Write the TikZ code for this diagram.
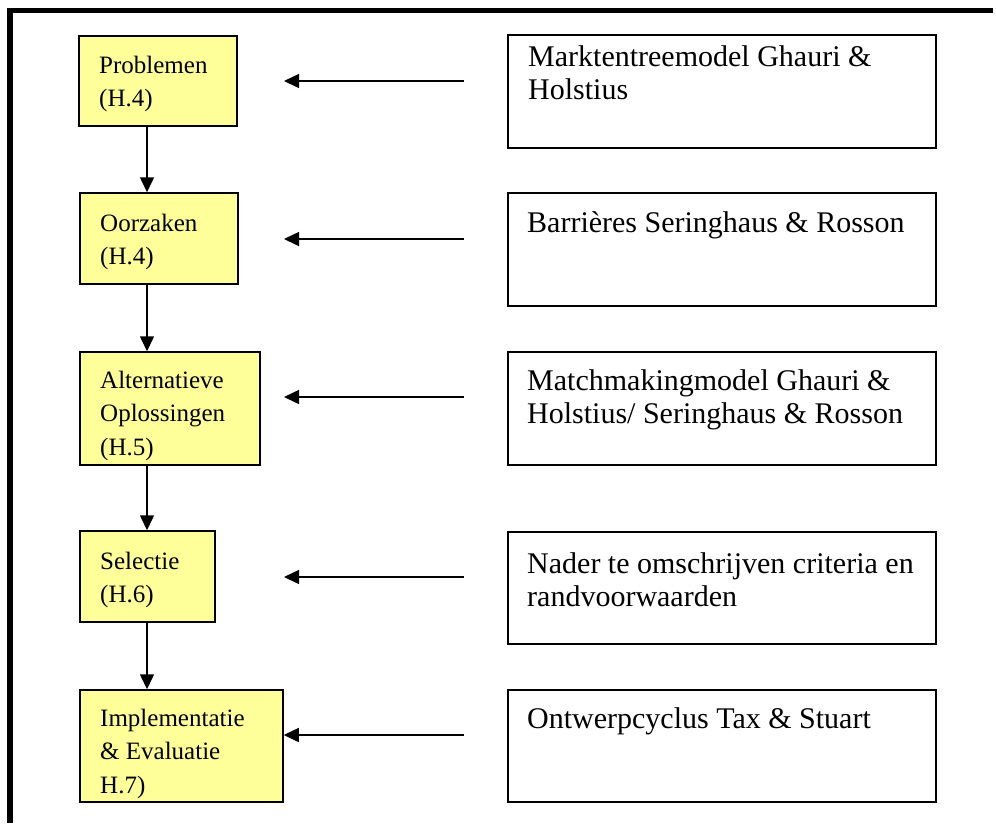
\documentclass[tikz,border=0pt]{standalone}
\usepackage{fontspec}
\setmainfont{Liberation Serif}
\usetikzlibrary{arrows.meta}
\definecolor{boxyellow}{RGB}{255,255,153}
\newcommand\lefttext[1]{\fontsize{25pt}{33.5pt}\selectfont\begin{tabular}[t]{@{}l@{}}#1\end{tabular}}
\newcommand\righttext[1]{\fontsize{30pt}{33.5pt}\selectfont\begin{tabular}[t]{@{}l@{}}#1\end{tabular}}
\tikzset{
  stagebox/.style={draw=black, line width=1.5pt, fill=boxyellow, rectangle, inner sep=0pt},
  modelbox/.style={draw=black, line width=1.5pt, fill=white, rectangle, inner sep=0pt, minimum width=428pt},
  labeltext/.style={anchor=base west, inner sep=0pt, text=black},
  arr/.style={line width=1.5pt, -{Triangle[length=15pt 0 0,width=14pt 0 0]}}
}
\begin{document}
\begin{tikzpicture}[x=1pt,y=-1pt]
\useasboundingbox (0,0) rectangle (996,823);
% outer frame (top and left edges visible)
\draw[line width=5.3pt] (993,10.8) -- (10,10.8) -- (10,823);

% left stage boxes
\node[stagebox, minimum width=158pt, minimum height=90pt]  (b1) at (158,81) {};
\node[stagebox, minimum width=158pt, minimum height=91pt]  (b2) at (159,238.5) {};
\node[stagebox, minimum width=180pt, minimum height=113pt] (b3) at (170,408.5) {};
\node[stagebox, minimum width=135pt, minimum height=91pt]  (b4) at (147.5,576.5) {};
\node[stagebox, minimum width=203pt, minimum height=112pt] (b5) at (181.5,746) {};

\node[labeltext] (l1) at (99,73)  {\lefttext{Problemen\\(H.4)}};
\node[labeltext] (l2) at (100,231) {\lefttext{Oorzaken\\(H.4)}};
\node[labeltext] (l3) at (100,388) {\lefttext{Alternatieve\\Oplossingen\\(H.5)}};
\node[labeltext] (l4) at (100,569) {\lefttext{Selectie\\(H.6)}};
\node[labeltext] (l5) at (100,726) {\lefttext{Implementatie\\\& Evaluatie\\H.7)}};

% right model boxes
\node[modelbox, minimum height=113pt] (r1) at (722,91.5) {};
\node[modelbox, minimum height=113pt] (r2) at (722,249.5) {};
\node[modelbox, minimum height=113pt] (r3) at (722,408.5) {};
\node[modelbox, minimum height=112pt] (r4) at (722,588) {};
\node[modelbox, minimum height=112pt] (r5) at (722,746) {};

\node[labeltext] (m1) at (528,66)  {\righttext{Marktentreemodel Ghauri \&\\Holstius}};
\node[labeltext] (m2) at (527,232) {\righttext{Barrières Seringhaus \& Rosson}};
\node[labeltext] (m3) at (527,390) {\righttext{Matchmakingmodel Ghauri \&\\Holstius/ Seringhaus \& Rosson}};
\node[labeltext] (m4) at (527,573) {\righttext{Nader te omschrijven criteria en\\randvoorwaarden}};
\node[labeltext] (m5) at (527,728) {\righttext{Ontwerpcyclus Tax \& Stuart}};

% vertical flow arrows
\coordinate (vx) at (147,0);
\draw[arr] (b1.south -| vx) -- (b2.north -| vx);
\draw[arr] (b2.south -| vx) -- (b3.north -| vx);
\draw[arr] (b3.south -| vx) -- (b4.north -| vx);
\draw[arr] (b4.south -| vx) -- (b5.north -| vx);

% horizontal arrows
\coordinate (a1) at (464,81);  \coordinate (h1) at (284,81);
\coordinate (a2) at (464,239); \coordinate (h2) at (284,239);
\coordinate (a3) at (464,397); \coordinate (h3) at (284,397);
\coordinate (a4) at (464,577); \coordinate (h4) at (284,577);
\coordinate (a5) at (464,735);
\draw[arr] (a1) -- (h1);
\draw[arr] (a2) -- (h2);
\draw[arr] (a3) -- (h3);
\draw[arr] (a4) -- (h4);
\draw[arr] (a5) -- (a5 -| b5.east);
\end{tikzpicture}
\end{document}
